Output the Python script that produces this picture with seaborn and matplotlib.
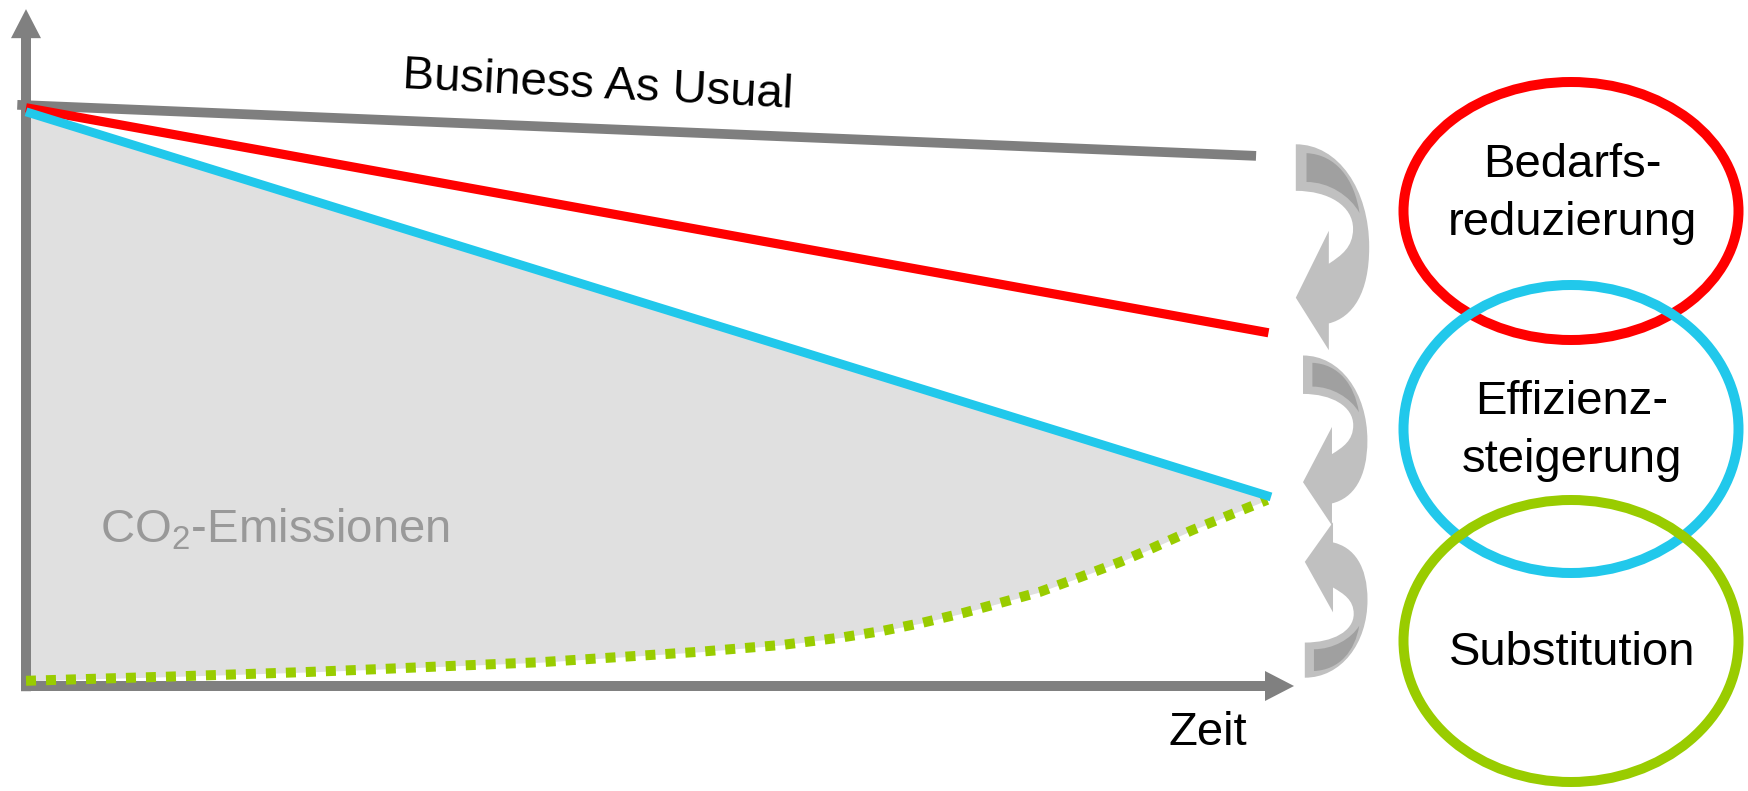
import numpy as np
import matplotlib
matplotlib.use("Agg")
import matplotlib.pyplot as plt
from matplotlib.patches import Ellipse, PathPatch
from matplotlib.path import Path
import seaborn as sns

# scenario lines: time 0..1, emissions relative to start level
bau_t = [-0.007, 0.988]
bau_v = [1.002, 0.914]
red_t = [0.0, 0.998]
red_v = [0.997, 0.609]
blue_t = [0.0, 1.0]
blue_v = [0.990, 0.326]
green_t = [0.0, 0.112, 0.224, 0.282, 0.346, 0.413, 0.477, 0.541, 0.608, 0.656,
           0.688, 0.720, 0.753, 0.782, 0.814, 0.847, 0.879, 0.905, 0.937, 0.967, 0.997]
green_v = [0.009, 0.016, 0.024, 0.029, 0.035, 0.041, 0.050, 0.059, 0.071, 0.084,
           0.095, 0.109, 0.126, 0.143, 0.162, 0.188, 0.214, 0.238, 0.269, 0.295, 0.321]

# measures on the right
measure_labels = ["Bedarfs-\nreduzierung", "Effizienz-\nsteigerung", "Substitution"]
measure_colors = ["#FF0000", "#21C8EB", "#99CC00"]

sns.set_theme(style="white")
plt.rcParams["font.family"] = ["Liberation Sans", "DejaVu Sans"]
plt.rcParams["mathtext.fontset"] = "custom"
plt.rcParams["mathtext.rm"] = "Liberation Sans"

W, H = 1748, 791
fig = plt.figure(figsize=(W / 100, H / 100), dpi=100)

# main diagram axes (origin at pixel 26/686, unit box up to 1271/106)
ax = fig.add_axes([26 / W, (H - 686) / H, (1271 - 26) / W, (686 - 106) / H])
ax.set_xlim(0, 1)
ax.set_ylim(0, 1)
ax.axis("off")

blue_at_green = np.interp(green_t, blue_t, blue_v)
ax.fill_between(green_t, green_v, blue_at_green, color="#E0E0E0", lw=0, zorder=1)

arrow_style = "simple,head_length=20.9,head_width=21.6,tail_width=7.2"
for xy, xytext in [((0, 1.167), (0, -0.009)), ((1.0185, 0), (-0.004, 0))]:
    ax.annotate("", xy=xy, xytext=xytext, annotation_clip=False,
                arrowprops=dict(arrowstyle=arrow_style, mutation_scale=1, color="#808080",
                                lw=0, shrinkA=0, shrinkB=0), zorder=2)

sns.lineplot(x=green_t, y=green_v, ax=ax, color="#99CC00", lw=7.2,
             linestyle=(0, (1, 1)), dash_capstyle="butt", clip_on=False, zorder=3)
sns.lineplot(x=bau_t, y=bau_v, ax=ax, color="#7F7F7F", lw=7.0,
             solid_capstyle="butt", clip_on=False, zorder=4)
sns.lineplot(x=red_t, y=red_v, ax=ax, color="#FF0000", lw=6.6,
             solid_capstyle="butt", clip_on=False, zorder=5)
sns.lineplot(x=blue_t, y=blue_v, ax=ax, color="#21C8EB", lw=6.4,
             solid_capstyle="butt", clip_on=False, zorder=6)

# overlay in pixel coordinates for texts, arrows and ellipses
ov = fig.add_axes([0, 0, 1, 1])
ov.set_xlim(0, W)
ov.set_ylim(H, 0)
ov.axis("off")
ov.patch.set_alpha(0)

ov.text(597, 98, "Business As Usual", fontsize=34, ha="center", va="baseline",
        rotation=-2.9, rotation_mode="anchor", color="black")
ov.text(100, 542, r"CO$_\mathrm{2}$-Emissionen", fontsize=34, ha="left",
        va="baseline", color="#999999")
ov.text(1168, 745, "Zeit", fontsize=34, ha="left", va="baseline", color="black")


def curved_arrow(x0, y0, w, h, flip=False):
    def pts(seq):
        out = []
        for u, v in seq:
            if flip:
                v = 1 - v
            out.append((x0 + u * w, y0 + v * h))
        return out

    body = [(0, 0), (0.58, 0), (1.0, 0.22), (1.0, 0.50),
            (1.0, 0.72), (0.78, 0.84), (0.45, 0.87),
            (0.45, 1.0), (0, 0.745), (0.45, 0.42), (0.45, 0.58),
            (0.62, 0.54), (0.78, 0.50), (0.78, 0.41),
            (0.78, 0.30), (0.45, 0.226), (0, 0.226), (0, 0)]
    codes = ([Path.MOVETO] + [Path.CURVE4] * 6 + [Path.LINETO] * 4
             + [Path.CURVE4] * 6 + [Path.CLOSEPOLY])
    ov.add_patch(PathPatch(Path(pts(body), codes), facecolor="#C0C0C0", lw=0))
    dark = [(0.146, 0.043), (0.55, 0.05), (0.80, 0.17), (0.868, 0.334),
            (0.74, 0.25), (0.45, 0.183), (0.146, 0.183), (0.146, 0.043)]
    dcodes = [Path.MOVETO] + [Path.CURVE4] * 6 + [Path.CLOSEPOLY]
    ov.add_patch(PathPatch(Path(pts(dark), dcodes), facecolor="#A0A0A0", lw=0))


arrow_x = [1295.8, 1303.0, 1304.8]
arrow_y = [144.3, 355.5, 522.2]
arrow_w = [73.4, 64.4, 62.7]
arrow_h = [205.9, 170.0, 155.5]
arrow_flip = [False, False, True]
for x0, y0, w, h, fl in zip(arrow_x, arrow_y, arrow_w, arrow_h, arrow_flip):
    curved_arrow(x0, y0, w, h, fl)

ell_cy = [211, 429, 641]
ell_h = [258, 288, 282]
label_base = [235, 472, 665]
for cy, eh, lab, col, yb in zip(ell_cy, ell_h, measure_labels, measure_colors, label_base):
    ov.add_patch(Ellipse((1571, cy), 335, eh, fill=False, edgecolor=col, lw=7.2))
    ov.text(1572, yb, lab, fontsize=34, ha="center", va="baseline",
            multialignment="center", linespacing=1.4, color="black")

fig.savefig("out.png", dpi=100)
